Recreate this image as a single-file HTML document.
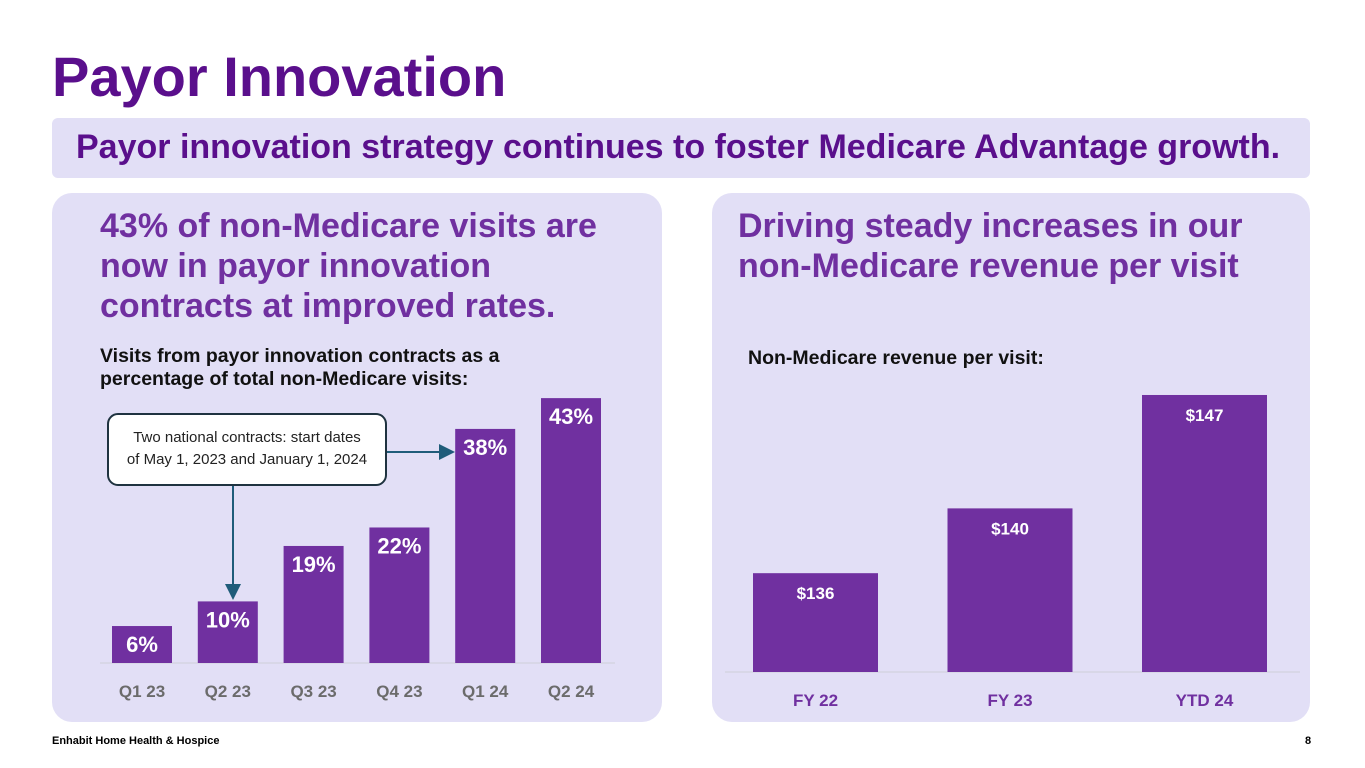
<!DOCTYPE html>
<html><head><meta charset="utf-8"><style>
body{margin:0;width:1365px;height:768px;background:#fff;font-family:"Liberation Sans",sans-serif;position:relative;overflow:hidden}
.abs{position:absolute}
.panel{position:absolute;background:#e2dff6;border-radius:20px}
.h{color:#7030a0;font-weight:bold;font-size:34px;line-height:40px;white-space:nowrap}
.sub{font-weight:bold;font-size:19.5px;line-height:23px;color:#111;white-space:nowrap}
</style></head><body>
<div class="abs" style="left:52px;top:44px;font-size:56px;font-weight:bold;color:#5a0f8c">Payor Innovation</div>
<div class="abs" style="left:52px;top:118px;width:1258px;height:60px;background:#e2dff6;border-radius:6px"></div>
<div class="abs" style="left:76px;top:128px;font-size:34px;font-weight:bold;color:#5a0f8c;white-space:nowrap">Payor innovation strategy continues to foster Medicare Advantage growth.</div>
<div class="panel" style="left:52px;top:193px;width:610px;height:529px"></div>
<div class="panel" style="left:712px;top:193px;width:598px;height:529px"></div>
<div class="abs h" style="left:100px;top:206px">43% of non-Medicare visits are<br>now in payor innovation<br>contracts at improved rates.</div>
<div class="abs h" style="left:738px;top:206px">Driving steady increases in our<br>non-Medicare revenue per visit</div>
<div class="abs sub" style="left:100px;top:345px">Visits from payor innovation contracts as a<br>percentage of total non-Medicare visits:</div>
<div class="abs sub" style="left:748px;top:347px">Non-Medicare revenue per visit:</div>
<svg class="abs" style="left:0;top:0" width="1365" height="768">
<g id="lc"></g><g id="rc"></g>
<defs><marker id="ar" markerWidth="8" markerHeight="8" refX="7" refY="4" orient="auto"><path d="M0,0L8,4L0,8z" fill="#1f5c7a"/></marker></defs>
<line x1="233" y1="485" x2="233" y2="598" stroke="#1f5c7a" stroke-width="2" marker-end="url(#ar)"/>
<line x1="386" y1="452" x2="453" y2="452" stroke="#1f5c7a" stroke-width="2" marker-end="url(#ar)"/>
<rect x="108" y="414" width="278" height="71" rx="10" fill="#fff" stroke="#1f3340" stroke-width="2"/>
<text x="247" y="442" text-anchor="middle" font-size="15" fill="#222" font-family="Liberation Sans,sans-serif">Two national contracts: start dates</text>
<text x="247" y="464" text-anchor="middle" font-size="15" fill="#222" font-family="Liberation Sans,sans-serif">of May 1, 2023 and January 1, 2024</text>
</svg>
<div class="abs" style="left:52px;top:735px;font-size:11px;font-weight:bold">Enhabit Home Health &amp; Hospice</div>
<div class="abs" style="left:1305px;top:735px;font-size:11px;font-weight:bold">8</div>
<script>
const leftCats=["Q1 23","Q2 23","Q3 23","Q4 23","Q1 24","Q2 24"];
const leftVals=[6,10,19,22,38,43];
const rightCats=["FY 22","FY 23","YTD 24"];
const rightVals=[136,140,147];
const NS="http://www.w3.org/2000/svg";
function mk(t,a,p){const e=document.createElementNS(NS,t);for(const k in a)e.setAttribute(k,a[k]);p.appendChild(e);return e;}
const lc=document.getElementById('lc'),rc=document.getElementById('rc');
const ly=v=>663-v*6.16, lx=i=>112+i*85.8;
let bl=mk('line',{x1:100,y1:663,x2:615,y2:663,stroke:'#cfcfd8','stroke-width':1},lc);


leftVals.forEach((v,i)=>{
 const r=mk('rect',{x:lx(i),y:ly(v),width:60,height:663-ly(v),fill:'#7030a0'},lc);
 
 
 const t=mk('text',{x:lx(i)+30,y:ly(v)+26,'text-anchor':'middle','font-size':22,'font-weight':'bold',fill:'#fff','font-family':'Liberation Sans,sans-serif'},lc);
 t.textContent=v+'%';
 
 
 const c=mk('text',{x:lx(i)+30,y:697,'text-anchor':'middle','font-size':17,'font-weight':'bold',fill:'#6b6b6b','font-family':'Liberation Sans,sans-serif'},lc);
 c.textContent=leftCats[i];
 
 
});
const ry=v=>672-(v-129.9)*16.2, rx=i=>753+i*194.5;
let br=mk('line',{x1:725,y1:672,x2:1300,y2:672,stroke:'#cfcfd8','stroke-width':1},rc);


rightVals.forEach((v,i)=>{
 const r=mk('rect',{x:rx(i),y:ry(v),width:125,height:672-ry(v),fill:'#7030a0'},rc);
 
 
 const t=mk('text',{x:rx(i)+62.5,y:ry(v)+26,'text-anchor':'middle','font-size':17,'font-weight':'bold',fill:'#fff','font-family':'Liberation Sans,sans-serif'},rc);
 t.textContent='$'+v;
 
 
 const c=mk('text',{x:rx(i)+62.5,y:706,'text-anchor':'middle','font-size':17,'font-weight':'bold',fill:'#7030a0','font-family':'Liberation Sans,sans-serif'},rc);
 c.textContent=rightCats[i];
 
 
});
</script>
</body></html>
